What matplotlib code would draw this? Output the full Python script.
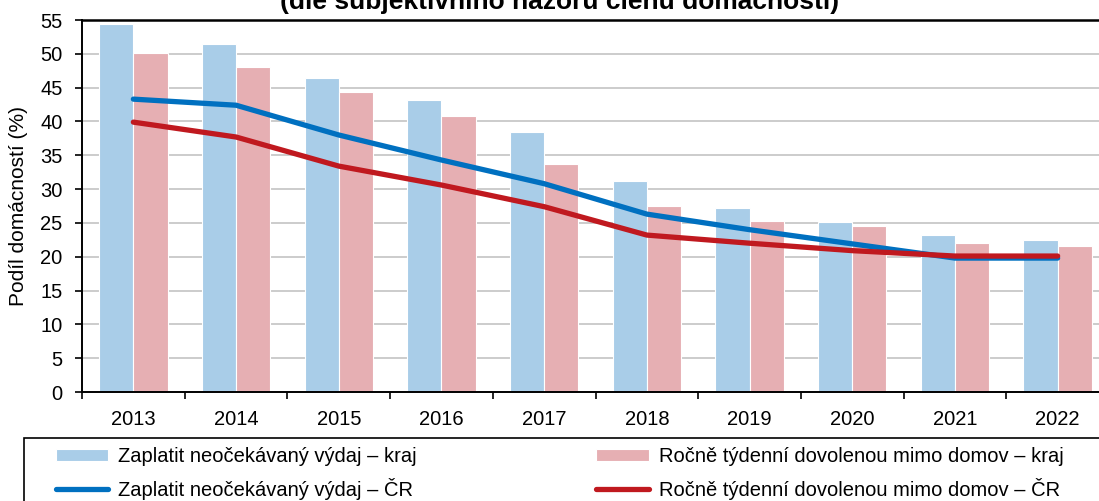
import matplotlib.pyplot as plt
from matplotlib.patches import Rectangle
import numpy as np

plt.rcParams['font.family'] = ['Liberation Sans', 'DejaVu Sans']

years = ['2013', '2014', '2015', '2016', '2017', '2018', '2019', '2020', '2021', '2022']
vydaj_kraj = [54.4, 51.5, 46.4, 43.2, 38.5, 31.2, 27.2, 25.1, 23.2, 22.5]
dovolena_kraj = [50.1, 48.1, 44.4, 40.8, 33.7, 27.5, 25.3, 24.6, 22.0, 21.6]
vydaj_cr = [43.3, 42.4, 38.0, 34.3, 30.8, 26.3, 24.0, 21.9, 19.8, 19.8]
dovolena_cr = [39.9, 37.7, 33.4, 30.6, 27.4, 23.2, 22.0, 20.9, 20.1, 20.1]

x = np.arange(len(years))
w = 0.333
W, H = 1099, 501

fig = plt.figure(figsize=(10.99, 5.01), dpi=100)
ax = fig.add_axes([82 / W, 1 - 392 / H, (1109 - 82) / W, (392 - 20) / H])

b1 = ax.bar(x - w / 2, vydaj_kraj, w, color='#a9cde8', edgecolor='white', linewidth=0.8,
            label='Zaplatit neočekávaný výdaj – kraj', zorder=2)
b2 = ax.bar(x + w / 2, dovolena_kraj, w, color='#e6afb3', edgecolor='white', linewidth=0.8,
            label='Ročně týdenní dovolenou mimo domov – kraj', zorder=2)
l1, = ax.plot(x, vydaj_cr, color='#0070c0', lw=3.8, solid_capstyle='round',
              label='Zaplatit neočekávaný výdaj – ČR', zorder=3)
l2, = ax.plot(x, dovolena_cr, color='#c0191f', lw=3.8, solid_capstyle='round',
              label='Ročně týdenní dovolenou mimo domov – ČR', zorder=4)

ax.set_xlim(-0.5, len(years) - 0.5)
ax.set_ylim(0, 55)
ax.set_yticks(np.arange(0, 56, 5))
ax.yaxis.grid(True, color='#c8c8c8', lw=1.3)
ax.set_axisbelow(True)
ax.set_xticks(x)
ax.set_xticklabels(years)
ax.set_xticks(np.arange(-0.5, len(years), 1), minor=True)
ax.tick_params(axis='x', which='major', length=0, pad=13, labelsize=14.5)
ax.tick_params(axis='x', which='minor', length=5, width=1.2, direction='out')
ax.tick_params(axis='y', length=5, width=1.2, labelsize=14.5, pad=9)
ax.spines['right'].set_visible(False)
ax.spines['top'].set_linewidth(1.8)
ax.spines['left'].set_linewidth(1.4)
ax.spines['bottom'].set_linewidth(1.4)
ax.set_ylabel('Podíl domácností (%)', fontsize=15)
ax.yaxis.set_label_coords(-54 / (1109 - 82), 0.5)

fig.text(560 / W, 1 - 9 / H, '(dle subjektivního názoru členů domácností)', ha='center',
         va='baseline', fontsize=19, fontweight='bold')

# legend frame, running past the right and bottom edges like in the source
fig.patches.append(Rectangle((24 / W, -0.1), 1.2, 0.1 + (501 - 438) / H, transform=fig.transFigure,
                             facecolor='none', edgecolor='black', lw=1.2))

leg = fig.legend([b1, l1, b2, l2],
                 [b1.get_label(), l1.get_label(), b2.get_label(), l2.get_label()],
                 ncol=2, loc='upper left', bbox_to_anchor=(56 / W, 1 - 447 / H),
                 fontsize=14.5, frameon=False, borderpad=0, borderaxespad=0,
                 handlelength=2.6, handleheight=0.55, columnspacing=8.9, labelspacing=0.6,
                 handletextpad=0.5)

fig.savefig('out.png', dpi=100)
